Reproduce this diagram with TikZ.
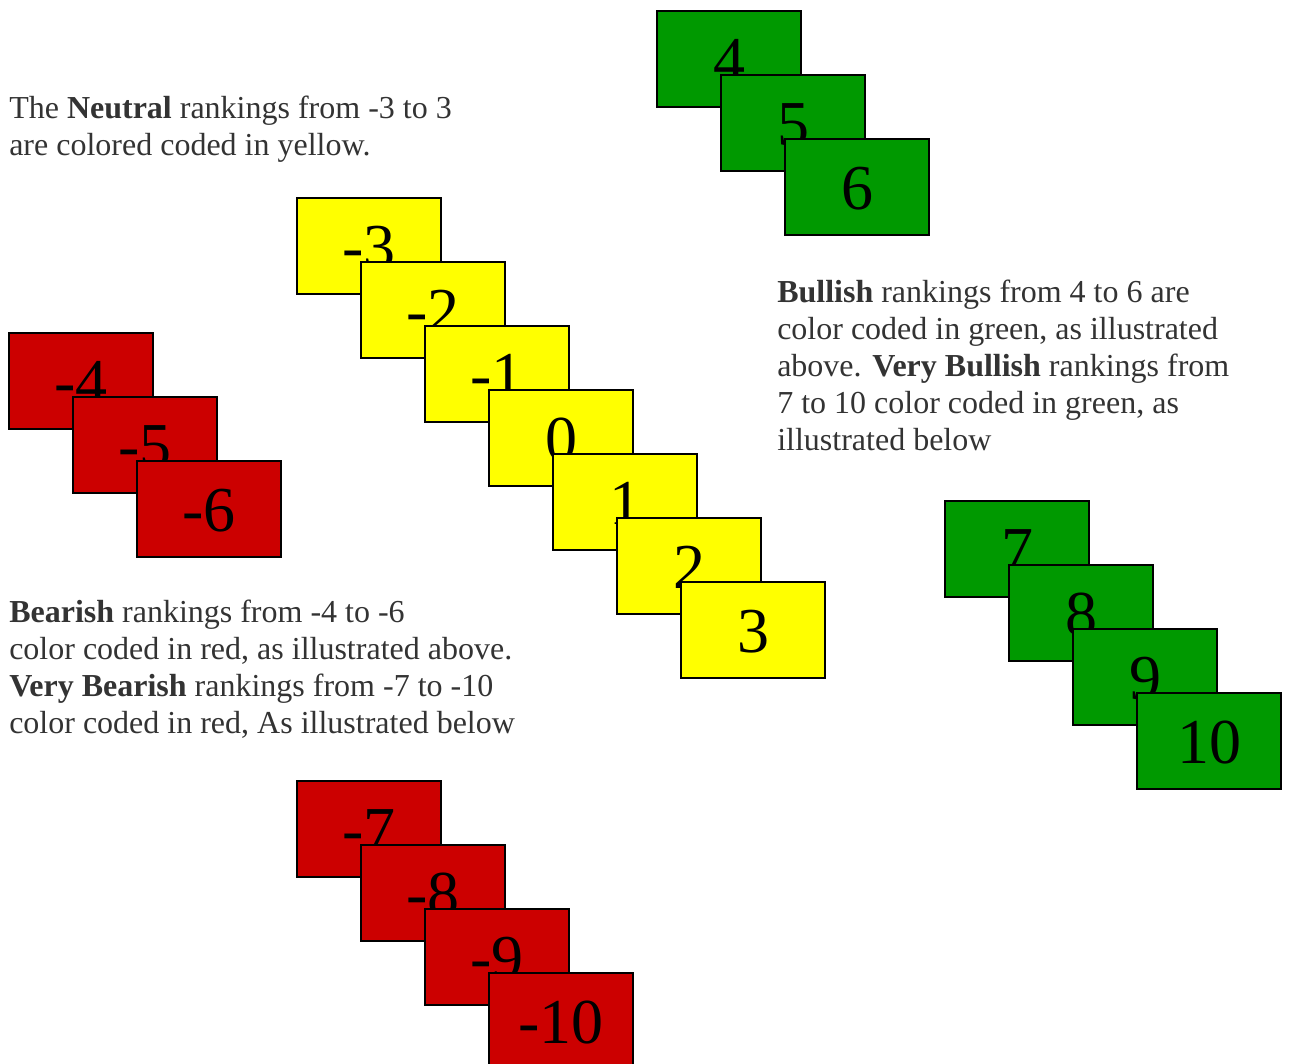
\documentclass[tikz,border=0pt]{standalone}
\usepackage{fontspec}
\setmainfont{Liberation Serif}
\definecolor{bull}{RGB}{0,153,0}
\definecolor{bear}{RGB}{204,0,0}
\definecolor{neutral}{RGB}{255,255,0}
\definecolor{notegray}{RGB}{51,51,51}
\tikzset{
  card/.style={draw=black, line width=1.5pt, rectangle, anchor=north west,
    inner sep=0pt, minimum width=108pt, minimum height=72pt,
    text height=52.5pt, text depth=19.5pt, font=\fontsize{48}{48}\selectfont},
  note/.style={anchor=base west, align=left, inner sep=0pt, text=notegray,
    font=\fontsize{24}{27.75}\selectfont}
}
\begin{document}
\begin{tikzpicture}[x=0.75pt,y=-0.75pt]
  \useasboundingbox (0,0) rectangle (1290,1064);
  % bullish
  \node[card,fill=bull] (g4) at (656,10) {4};
  \node[card,fill=bull] (g5) at (720,74) {5};
  \node[card,fill=bull] (g6) at (784,138) {6};
  % neutral
  \node[card,fill=neutral] (y-3) at (296,197) {-3};
  \node[card,fill=neutral] (y-2) at (360,261) {-2};
  \node[card,fill=neutral] (y-1) at (424,325) {-1};
  \node[card,fill=neutral] (y0) at (488,389) {0};
  \node[card,fill=neutral] (y1) at (552,453) {1};
  \node[card,fill=neutral] (y2) at (616,517) {2};
  \node[card,fill=neutral] (y3) at (680,581) {3};
  % bearish
  \node[card,fill=bear] (r-4) at (8,332) {-4};
  \node[card,fill=bear] (r-5) at (72,396) {-5};
  \node[card,fill=bear] (r-6) at (136,460) {-6};
  % very bullish
  \node[card,fill=bull] (g7) at (944,500) {7};
  \node[card,fill=bull] (g8) at (1008,564) {8};
  \node[card,fill=bull] (g9) at (1072,628) {9};
  \node[card,fill=bull] (g10) at (1136,692) {10};
  % very bearish
  \node[card,fill=bear] (r-7) at (296,780) {-7};
  \node[card,fill=bear] (r-8) at (360,844) {-8};
  \node[card,fill=bear] (r-9) at (424,908) {-9};
  \node[card,fill=bear] (r-10) at (488,972) {-10};
  % notes (anchored at the last line)
  \node[note] (neutralnote) at (9,155) {The \textbf{Neutral} rankings from -3 to 3\\are colored coded in yellow.};
  \node[note] (bullnote) at (777,450) {\textbf{Bullish} rankings from 4 to 6 are\\color coded in green, as illustrated\\above. \textbf{Very Bullish} rankings from\\7 to 10 color coded in green, as\\illustrated below};
  \node[note] (bearnote) at (9,733) {\textbf{Bearish} rankings from -4 to -6\\color coded in red, as illustrated above.\\\textbf{Very Bearish} rankings from -7 to -10\\color coded in red, As illustrated below};
\end{tikzpicture}
\end{document}
